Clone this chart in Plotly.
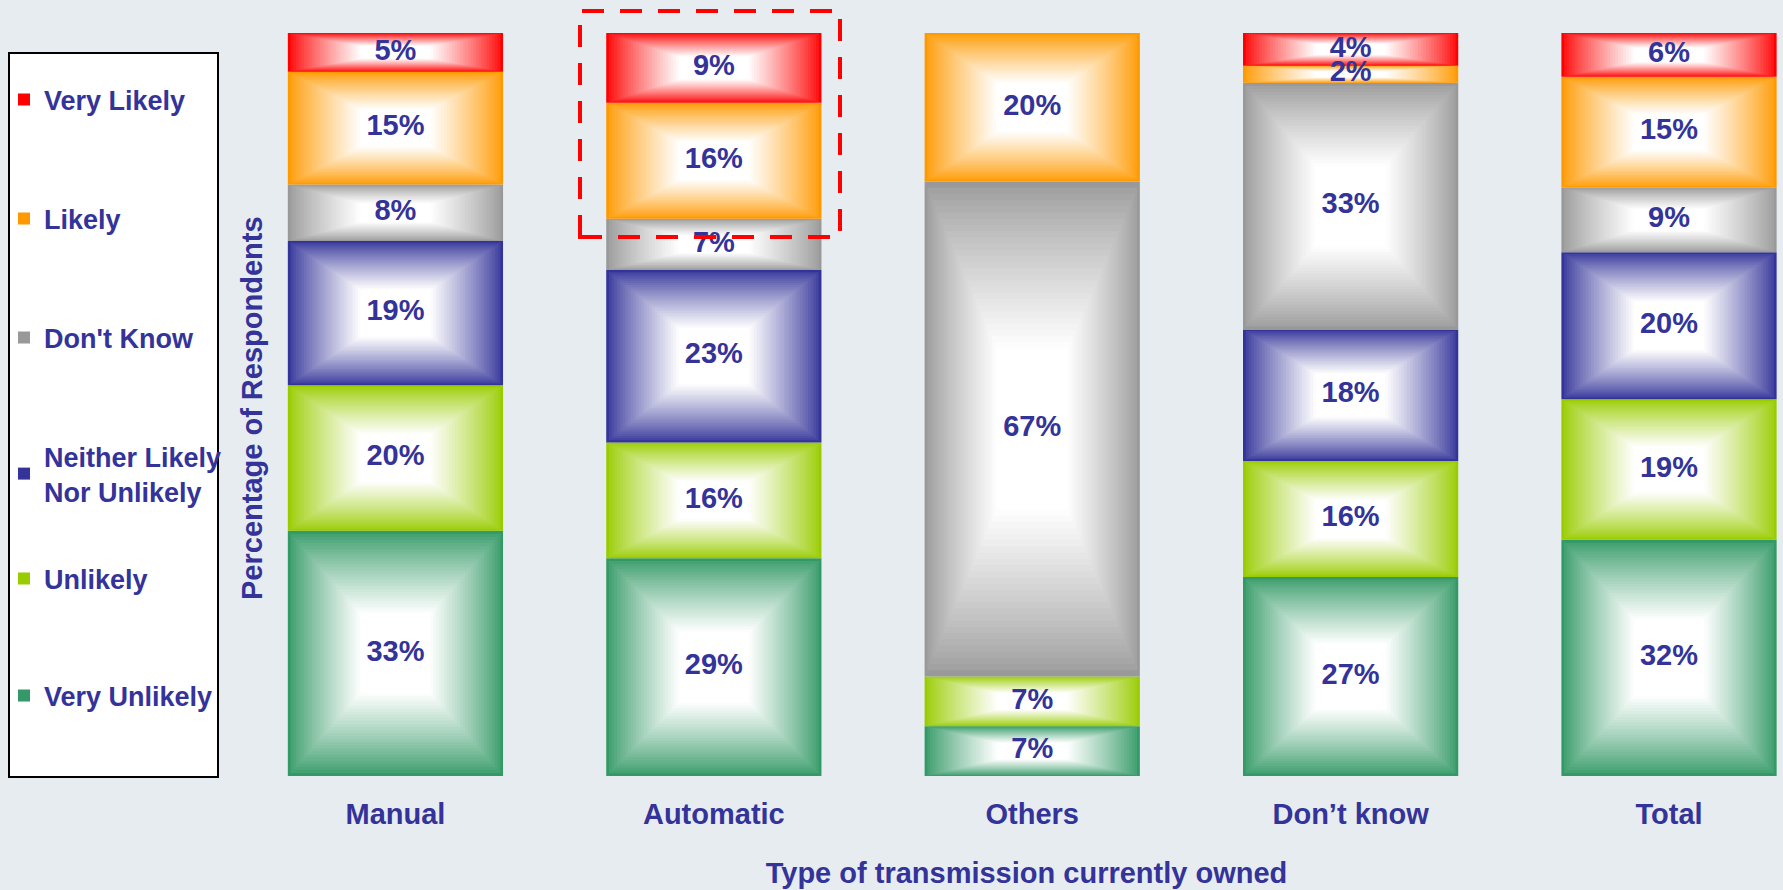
import plotly.graph_objects as go

# ---------------- data ----------------
categories = ["Manual", "Automatic", "Others", "Don’t know", "Total"]
series_names = ["Very Unlikely", "Unlikely", "Neither Likely<br>Nor Unlikely",
                "Don't Know", "Likely", "Very Likely"]
very_unlikely = [33.0, 29.3, 6.7, 26.8, 31.8]
unlikely = [19.6, 15.6, 6.7, 15.6, 18.9]
neither = [19.4, 23.2, 0.0, 17.7, 19.8]
dont_know = [7.6, 6.9, 66.6, 33.2, 8.7]
likely = [15.2, 15.6, 20.0, 2.3, 14.9]
very_likely = [5.2, 9.4, 0.0, 4.4, 5.9]
series_values = [very_unlikely, unlikely, neither, dont_know, likely, very_likely]
x_title = "Type of transmission currently owned"
y_title = "Percentage of Respondents"

# ---------------- style ----------------
series_colors = ["#339966", "#99CC00", "#333399", "#999999", "#FF9900", "#FF0000"]
TEXT = "#333399"
BG = "#E7ECF1"
FONT = "Liberation Sans, Arial, Helvetica, sans-serif"
BAR_W = 0.676
RINGS = 40

W, H = 1783, 890
ML, MR, MT, MB = 270, 0, 33, 114
PW, PH = W - ML - MR, H - MT - MB


def px_x(p):
    return (p - ML) / PW


def px_y(p):
    return (H - MB - p) / PH


def hex2rgb(h):
    h = h.lstrip("#")
    return tuple(int(h[i:i + 2], 16) for i in (0, 2, 4))


def whiteness(d):
    t = (1.0 - d) / 0.68
    t = max(0.0, min(1.0, t))
    return t ** 0.85


def tint(rgb, g):
    return "rgb(%d,%d,%d)" % tuple(round(c + (255 - c) * g) for c in rgb)


# stacking bases
bases = []
cum = [0.0] * len(categories)
for vals in series_values:
    bases.append(cum[:])
    cum = [c + v for c, v in zip(cum, vals)]

fig = go.Figure()

legend_ids = ["legend6", "legend5", "legend4", "legend3", "legend2", "legend"]
legend_centers_px = [696, 579, 474, 338, 219, 100]

for i, (name, vals, col) in enumerate(zip(series_names, series_values, series_colors)):
    fig.add_trace(go.Bar(
        x=categories, y=vals, base=bases[i], width=BAR_W, name=name,
        marker=dict(color=col, line=dict(width=0)),
        legend=legend_ids[i], hoverinfo="skip",
    ))

# segment list for gradient rings and labels
seg_x, seg_b, seg_h, seg_rgb = [], [], [], []
for i, vals in enumerate(series_values):
    for j, v in enumerate(vals):
        if v > 0:
            seg_x.append(categories[j])
            seg_b.append(bases[i][j])
            seg_h.append(v)
            seg_rgb.append(hex2rgb(series_colors[i]))

for k in range(1, RINGS):
    s = 1.0 - k / RINGS
    g = whiteness(s - 0.5 / RINGS)
    fig.add_trace(go.Bar(
        x=seg_x,
        y=[h * s for h in seg_h],
        base=[b + h * (1 - s) / 2 for b, h in zip(seg_b, seg_h)],
        width=BAR_W * s,
        marker=dict(color=[tint(c, g) for c in seg_rgb], line=dict(width=0)),
        showlegend=False, hoverinfo="skip",
    ))

fig.add_trace(go.Scatter(
    x=seg_x, y=[b + h / 2 for b, h in zip(seg_b, seg_h)],
    mode="text", text=["%d%%" % round(h) for h in seg_h],
    textfont=dict(size=29, color=TEXT, family=FONT, weight="bold"),
    showlegend=False, hoverinfo="skip", cliponaxis=False,
))

legend_font = dict(size=27, color=TEXT, family=FONT, weight="bold")
legends = {}
for lid, cy in zip(legend_ids, legend_centers_px):
    legends[lid] = dict(
        x=px_x(4), xanchor="left", y=px_y(cy), yanchor="middle",
        bgcolor="rgba(0,0,0,0)", borderwidth=0, font=legend_font,
        itemclick=False, itemdoubleclick=False,
    )

axis_font = dict(size=29, color=TEXT, family=FONT, weight="bold")

fig.update_layout(
    width=W, height=H, autosize=False,
    margin=dict(l=ML, r=MR, t=MT, b=MB),
    paper_bgcolor=BG, plot_bgcolor=BG,
    barmode="overlay",
    showlegend=True,
    xaxis=dict(
        type="category", range=[-0.394, 4.358], showgrid=False, zeroline=False,
        showline=False, ticks="outside", ticklen=12, tickcolor="rgba(0,0,0,0)",
        tickfont=axis_font, fixedrange=True,
        title=dict(text=x_title, font=axis_font, standoff=33),
    ),
    yaxis=dict(
        range=[0, 100], showgrid=False, zeroline=False, showline=False,
        showticklabels=False, ticks="", fixedrange=True,
    ),
    annotations=[
        dict(text=y_title, xref="paper", yref="paper", x=px_x(252), y=px_y(408),
             xanchor="center", yanchor="middle", textangle=-90, showarrow=False,
             font=axis_font),
    ],
    shapes=[
        dict(type="rect", xref="paper", yref="paper",
             x0=px_x(9), x1=px_x(218), y0=px_y(53), y1=px_y(777),
             line=dict(color="black", width=2), fillcolor="white", layer="below"),
        dict(type="rect", xref="paper", yref="paper",
             x0=px_x(580), x1=px_x(840), y0=px_y(237), y1=px_y(11),
             line=dict(color="#FF0000", width=4, dash="22px,16px"),
             fillcolor="rgba(0,0,0,0)", layer="above"),
    ],
    **legends,
)

fig.write_html(
    "out.html",
    config={"displayModeBar": False},
    post_script="document.body.style.margin='0';document.body.style.overflow='hidden';",
)
